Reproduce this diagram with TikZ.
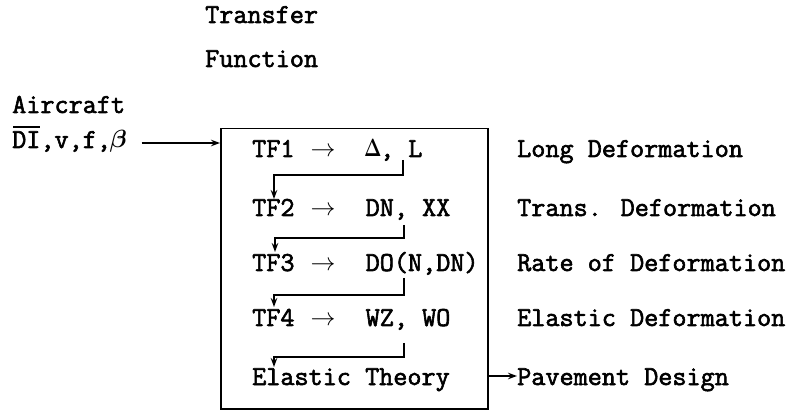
\documentclass[tikz,border=0pt]{standalone}
\usepackage{fontspec}
\usepackage{bm}
\newfontfamily\typewriter{Latin Modern Mono}[AutoFakeBold=2.2]
\usetikzlibrary{arrows.meta}

\newcommand{\tfarrow}{\makebox[28.8pt][c]{$\rightarrow$}}

\tikzset{
  txt/.style={anchor=base west, inner sep=0pt,
    font=\typewriter\bfseries\fontsize{27.4}{30}\selectfont},
  flow/.style={line width=1.5pt, -{Stealth[length=9pt,width=6.5pt]}},
}

\begin{document}
\begin{tikzpicture}[x=1pt,y=-1pt]
\useasboundingbox (0,0) rectangle (803,411);
% Headings
\node[txt] (head1) at (205,23) {Transfer};
\node[txt] (head2) at (205,67) {Function};
\node[txt] (craft) at (12,113) {Aircraft};
\node[txt] (din) at (12,148) {DI,v,f,\makebox[14.4pt][c]{$\bm{\beta}$}};
% Bar over DI
\draw[line width=1.3pt] ([shift={(1,-21)}]din.base west) -- ++(27,0);
% Transfer function box
\node[draw, line width=1.5pt, anchor=north west, minimum width=267pt,
      minimum height=280pt, inner sep=0pt] (tfbox) at (220,128) {};
% Rows inside the box
\node[txt] (tf1) at (252,157) {TF1 \tfarrow\ \ \makebox[14.4pt][c]{\scalebox{0.75}[1]{$\bm{\Delta}$}}, L};
\node[txt] (tf2) at (252,216) {TF2 \tfarrow\ \ DN, XX};
\node[txt] (tf3) at (252,271) {TF3 \tfarrow\ \ DO(N,DN)};
\node[txt] (tf4) at (252,326) {TF4 \tfarrow\ \ WZ, WO};
\node[txt] (tf5) at (252,385) {Elastic Theory};
% Labels on the right
\node[txt] (lbl1) at (517,157) {Long Deformation};
\node[txt] (lbl2) at (517,216) {Trans. Deformation};
\node[txt] (lbl3) at (517,271) {Rate of Deformation};
\node[txt] (lbl4) at (517,326) {Elastic Deformation};
\node[txt] (pav) at (517,385) {Pavement Design};
% Input and output
\coordinate (inA) at ([shift={(16,-5)}]din.base east);
\draw[flow] (inA) -- (inA -| tfbox.west);
\coordinate (outB) at ([shift={(0,-9)}]pav.base west);
\draw[flow] (outB -| tfbox.east) -- (outB);
% Steps from row to row
\draw[flow] ([shift={(151,3)}]tf1.base west) -- ++(0,15) -| ([shift={(22,-17)}]tf2.base west);
\draw[flow] ([shift={(152,9)}]tf2.base west) -- ++(0,13) -| ([shift={(23,-19)}]tf3.base west);
\draw[flow] ([shift={(152,7)}]tf3.base west) -- ++(0,17) -| ([shift={(22,-19)}]tf4.base west);
\draw[flow] ([shift={(152,17)}]tf4.base west) -- ++(0,14) -| ([shift={(22,-18)}]tf5.base west);
\end{tikzpicture}
\end{document}
